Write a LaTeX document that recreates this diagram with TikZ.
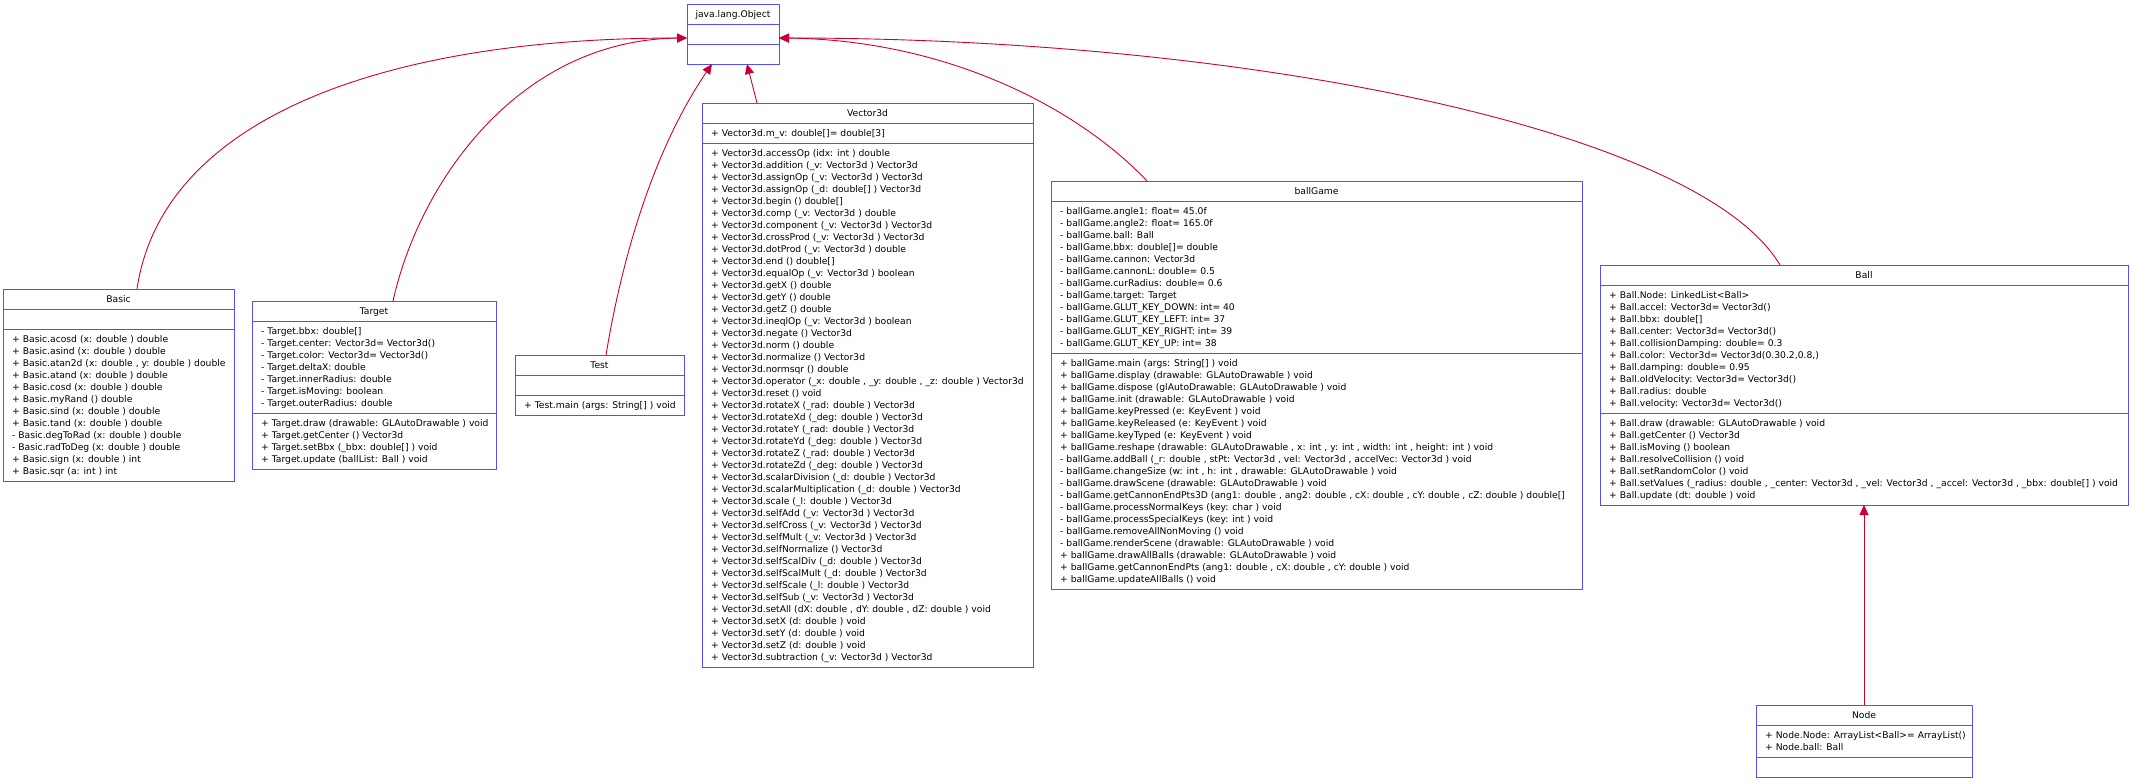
\documentclass[tikz,border=0pt]{standalone}
\usepackage{fontspec}
\setmainfont{DejaVu Sans}
\usetikzlibrary{arrows.meta}
\definecolor{boxblue}{RGB}{80,80,255}
\definecolor{inh}{RGB}{204,0,51}
\newcommand\mfont{\fontsize{9.2}{12}\selectfont}
\tikzset{
  classbox/.style={draw=boxblue, line width=1pt, fill=white, anchor=north west, inner sep=0pt, outer sep=0pt},
  sepline/.style={draw=boxblue, line width=1pt},
  ctitle/.style={anchor=base, inner sep=0pt, font=\mfont},
  members/.style={anchor=north west, inner sep=0pt, align=left, font=\mfont},
  inherit/.style={draw=inh, line width=0.9pt, -{Triangle[length=10pt,width=9pt]}},
}
\begin{document}
\begin{tikzpicture}[x=1pt,y=-1pt]
\useasboundingbox (0,0) rectangle (2132,782);
\fill[white] (0,0) rectangle (2132,782);

% ---------- java.lang.Object
\node[classbox, minimum width=92pt, minimum height=60pt] (obj) at (687,4) {};
\draw[sepline] ([yshift=-20pt]obj.north west) -- ([yshift=-20pt]obj.north east);
\draw[sepline] ([yshift=-40pt]obj.north west) -- ([yshift=-40pt]obj.north east);
\node[ctitle] (obj-t) at ([yshift=-13.4pt]obj.north) {java.lang.Object};

% ---------- Basic
\node[classbox, minimum width=231pt, minimum height=192pt] (basic) at (3,289) {};
\draw[sepline] ([yshift=-20pt]basic.north west) -- ([yshift=-20pt]basic.north east);
\draw[sepline] ([yshift=-40pt]basic.north west) -- ([yshift=-40pt]basic.north east);
\node[ctitle] (basic-t) at ([yshift=-13.4pt]basic.north) {Basic};
\node[members] (basic-o) at ([xshift=9pt,yshift=-45pt]basic.north west) {\strut + Basic.acosd (x: double ) double\\
+ Basic.asind (x: double ) double\\
+ Basic.atan2d (x: double , y: double ) double\\
+ Basic.atand (x: double ) double\\
+ Basic.cosd (x: double ) double\\
+ Basic.myRand () double\\
+ Basic.sind (x: double ) double\\
+ Basic.tand (x: double ) double\\
- Basic.degToRad (x: double ) double\\
- Basic.radToDeg (x: double ) double\\
+ Basic.sign (x: double ) int\\
+ Basic.sqr (a: int ) int};

% ---------- Target
\node[classbox, minimum width=244pt, minimum height=168pt] (target) at (252,301) {};
\draw[sepline] ([yshift=-20pt]target.north west) -- ([yshift=-20pt]target.north east);
\draw[sepline] ([yshift=-112pt]target.north west) -- ([yshift=-112pt]target.north east);
\node[ctitle] (target-t) at ([yshift=-13.4pt]target.north) {Target};
\node[members] (target-a) at ([xshift=9pt,yshift=-25pt]target.north west) {\strut - Target.bbx: double[]\\
- Target.center: Vector3d= Vector3d()\\
- Target.color: Vector3d= Vector3d()\\
- Target.deltaX: double\\
- Target.innerRadius: double\\
- Target.isMoving: boolean\\
- Target.outerRadius: double};
\node[members] (target-o) at ([xshift=9pt,yshift=-117pt]target.north west) {\strut + Target.draw (drawable: GLAutoDrawable ) void\\
+ Target.getCenter () Vector3d\\
+ Target.setBbx (\_bbx: double[] ) void\\
+ Target.update (ballList: Ball ) void};

% ---------- Test
\node[classbox, minimum width=169pt, minimum height=60pt] (test) at (515,355) {};
\draw[sepline] ([yshift=-20pt]test.north west) -- ([yshift=-20pt]test.north east);
\draw[sepline] ([yshift=-40pt]test.north west) -- ([yshift=-40pt]test.north east);
\node[ctitle] (test-t) at ([yshift=-13.4pt]test.north) {Test};
\node[members] (test-o) at ([xshift=9pt,yshift=-45pt]test.north west) {\strut + Test.main (args: String[] ) void};

% ---------- Vector3d
\node[classbox, minimum width=331pt, minimum height=564pt] (vec) at (702,103) {};
\draw[sepline] ([yshift=-20pt]vec.north west) -- ([yshift=-20pt]vec.north east);
\draw[sepline] ([yshift=-40pt]vec.north west) -- ([yshift=-40pt]vec.north east);
\node[ctitle] (vec-t) at ([yshift=-13.4pt]vec.north) {Vector3d};
\node[members] (vec-a) at ([xshift=9pt,yshift=-25pt]vec.north west) {\strut + Vector3d.m\_v: double[]= double[3]};
\node[members] (vec-o) at ([xshift=9pt,yshift=-45pt]vec.north west) {\strut + Vector3d.accessOp (idx: int ) double\\
+ Vector3d.addition (\_v: Vector3d ) Vector3d\\
+ Vector3d.assignOp (\_v: Vector3d ) Vector3d\\
+ Vector3d.assignOp (\_d: double[] ) Vector3d\\
+ Vector3d.begin () double[]\\
+ Vector3d.comp (\_v: Vector3d ) double\\
+ Vector3d.component (\_v: Vector3d ) Vector3d\\
+ Vector3d.crossProd (\_v: Vector3d ) Vector3d\\
+ Vector3d.dotProd (\_v: Vector3d ) double\\
+ Vector3d.end () double[]\\
+ Vector3d.equalOp (\_v: Vector3d ) boolean\\
+ Vector3d.getX () double\\
+ Vector3d.getY () double\\
+ Vector3d.getZ () double\\
+ Vector3d.ineqlOp (\_v: Vector3d ) boolean\\
+ Vector3d.negate () Vector3d\\
+ Vector3d.norm () double\\
+ Vector3d.normalize () Vector3d\\
+ Vector3d.normsqr () double\\
+ Vector3d.operator (\_x: double , \_y: double , \_z: double ) Vector3d\\
+ Vector3d.reset () void\\
+ Vector3d.rotateX (\_rad: double ) Vector3d\\
+ Vector3d.rotateXd (\_deg: double ) Vector3d\\
+ Vector3d.rotateY (\_rad: double ) Vector3d\\
+ Vector3d.rotateYd (\_deg: double ) Vector3d\\
+ Vector3d.rotateZ (\_rad: double ) Vector3d\\
+ Vector3d.rotateZd (\_deg: double ) Vector3d\\
+ Vector3d.scalarDivision (\_d: double ) Vector3d\\
+ Vector3d.scalarMultiplication (\_d: double ) Vector3d\\
+ Vector3d.scale (\_l: double ) Vector3d\\
+ Vector3d.selfAdd (\_v: Vector3d ) Vector3d\\
+ Vector3d.selfCross (\_v: Vector3d ) Vector3d\\
+ Vector3d.selfMult (\_v: Vector3d ) Vector3d\\
+ Vector3d.selfNormalize () Vector3d\\
+ Vector3d.selfScalDiv (\_d: double ) Vector3d\\
+ Vector3d.selfScalMult (\_d: double ) Vector3d\\
+ Vector3d.selfScale (\_l: double ) Vector3d\\
+ Vector3d.selfSub (\_v: Vector3d ) Vector3d\\
+ Vector3d.setAll (dX: double , dY: double , dZ: double ) void\\
+ Vector3d.setX (d: double ) void\\
+ Vector3d.setY (d: double ) void\\
+ Vector3d.setZ (d: double ) void\\
+ Vector3d.subtraction (\_v: Vector3d ) Vector3d};

% ---------- ballGame
\node[classbox, minimum width=531pt, minimum height=408pt] (game) at (1051,181) {};
\draw[sepline] ([yshift=-20pt]game.north west) -- ([yshift=-20pt]game.north east);
\draw[sepline] ([yshift=-172pt]game.north west) -- ([yshift=-172pt]game.north east);
\node[ctitle] (game-t) at ([yshift=-13.4pt]game.north) {ballGame};
\node[members] (game-a) at ([xshift=9pt,yshift=-25pt]game.north west) {\strut - ballGame.angle1: float= 45.0f\\
- ballGame.angle2: float= 165.0f\\
- ballGame.ball: Ball\\
- ballGame.bbx: double[]= double\\
- ballGame.cannon: Vector3d\\
- ballGame.cannonL: double= 0.5\\
- ballGame.curRadius: double= 0.6\\
- ballGame.target: Target\\
- ballGame.GLUT\_KEY\_DOWN: int= 40\\
- ballGame.GLUT\_KEY\_LEFT: int= 37\\
- ballGame.GLUT\_KEY\_RIGHT: int= 39\\
- ballGame.GLUT\_KEY\_UP: int= 38};
\node[members] (game-o) at ([xshift=9pt,yshift=-177pt]game.north west) {\strut + ballGame.main (args: String[] ) void\\
+ ballGame.display (drawable: GLAutoDrawable ) void\\
+ ballGame.dispose (glAutoDrawable: GLAutoDrawable ) void\\
+ ballGame.init (drawable: GLAutoDrawable ) void\\
+ ballGame.keyPressed (e: KeyEvent ) void\\
+ ballGame.keyReleased (e: KeyEvent ) void\\
+ ballGame.keyTyped (e: KeyEvent ) void\\
+ ballGame.reshape (drawable: GLAutoDrawable , x: int , y: int , width: int , height: int ) void\\
- ballGame.addBall (\_r: double , stPt: Vector3d , vel: Vector3d , accelVec: Vector3d ) void\\
- ballGame.changeSize (w: int , h: int , drawable: GLAutoDrawable ) void\\
- ballGame.drawScene (drawable: GLAutoDrawable ) void\\
- ballGame.getCannonEndPts3D (ang1: double , ang2: double , cX: double , cY: double , cZ: double ) double[]\\
- ballGame.processNormalKeys (key: char ) void\\
- ballGame.processSpecialKeys (key: int ) void\\
- ballGame.removeAllNonMoving () void\\
- ballGame.renderScene (drawable: GLAutoDrawable ) void\\
+ ballGame.drawAllBalls (drawable: GLAutoDrawable ) void\\
+ ballGame.getCannonEndPts (ang1: double , cX: double , cY: double ) void\\
+ ballGame.updateAllBalls () void};

% ---------- Ball
\node[classbox, minimum width=528pt, minimum height=240pt] (ball) at (1600,265) {};
\draw[sepline] ([yshift=-20pt]ball.north west) -- ([yshift=-20pt]ball.north east);
\draw[sepline] ([yshift=-148pt]ball.north west) -- ([yshift=-148pt]ball.north east);
\node[ctitle] (ball-t) at ([yshift=-13.4pt]ball.north) {Ball};
\node[members] (ball-a) at ([xshift=9pt,yshift=-25pt]ball.north west) {\strut + Ball.Node: LinkedList<Ball>\\
+ Ball.accel: Vector3d= Vector3d()\\
+ Ball.bbx: double[]\\
+ Ball.center: Vector3d= Vector3d()\\
+ Ball.collisionDamping: double= 0.3\\
+ Ball.color: Vector3d= Vector3d(0.30.2,0.8,)\\
+ Ball.damping: double= 0.95\\
+ Ball.oldVelocity: Vector3d= Vector3d()\\
+ Ball.radius: double\\
+ Ball.velocity: Vector3d= Vector3d()};
\node[members] (ball-o) at ([xshift=9pt,yshift=-153pt]ball.north west) {\strut + Ball.draw (drawable: GLAutoDrawable ) void\\
+ Ball.getCenter () Vector3d\\
+ Ball.isMoving () boolean\\
+ Ball.resolveCollision () void\\
+ Ball.setRandomColor () void\\
+ Ball.setValues (\_radius: double , \_center: Vector3d , \_vel: Vector3d , \_accel: Vector3d , \_bbx: double[] ) void\\
+ Ball.update (dt: double ) void};

% ---------- Node
\node[classbox, minimum width=216pt, minimum height=72pt] (node) at (1756,705) {};
\draw[sepline] ([yshift=-20pt]node.north west) -- ([yshift=-20pt]node.north east);
\draw[sepline] ([yshift=-52pt]node.north west) -- ([yshift=-52pt]node.north east);
\node[ctitle] (node-t) at ([yshift=-13.4pt]node.north) {Node};
\node[members] (node-a) at ([xshift=9pt,yshift=-25pt]node.north west) {\strut + Node.Node: ArrayList<Ball>= ArrayList()\\
+ Node.ball: Ball};

% ---------- connectors
\coordinate (objL) at ([yshift=-34pt]obj.north west);
\coordinate (objR) at ([yshift=-34pt]obj.north east);
\coordinate (objB1) at ([xshift=25pt]obj.south west);
\coordinate (objB2) at ([xshift=60pt]obj.south west);
\coordinate (basicS) at ([xshift=134pt]basic.north west);
\coordinate (targetS) at ([xshift=141pt]target.north west);
\coordinate (testS) at ([xshift=91pt]test.north west);
\coordinate (vecS) at ([xshift=55pt]vec.north west);
\coordinate (gameS) at ([xshift=96pt]game.north west);
\coordinate (ballS) at ([xshift=180pt]ball.north west);

\draw[inherit] (basicS) .. controls (162,120) and (380,38) .. (objL);
\draw[inherit] (targetS) .. controls (420,180) and (520,40) .. (objL);
\draw[inherit] (testS) .. controls (625,240) and (660,140) .. (objB1);
\draw[inherit] (vecS) -- (objB2);
\draw[inherit] (gameS) .. controls (1080,110) and (950,40) .. (objR);
\draw[inherit] (ballS) .. controls (1700,130) and (1250,38) .. (objR);
\draw[inherit] (node.north) -- (ball.south);
\end{tikzpicture}
\end{document}
